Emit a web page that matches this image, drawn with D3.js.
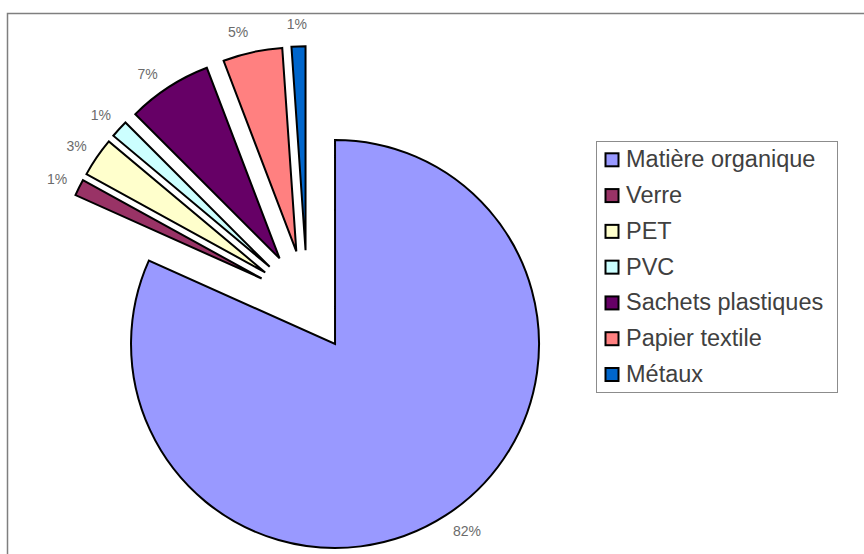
<!DOCTYPE html>
<html>
<head>
<meta charset="utf-8">
<script src="https://cdn.jsdelivr.net/npm/d3@7"></script>
<style>
  html, body { margin: 0; padding: 0; background: #fff; }
  svg { display: block; }
</style>
</head>
<body>
<svg id="chart" width="864" height="554"></svg>
<script>
const categories = ["Matière organique", "Verre", "PET", "PVC", "Sachets plastiques", "Papier textile", "Métaux"];
const values = [81.7, 1.3, 3.1, 1.4, 6.7, 4.7, 1.1];
const labels = ["82%", "1%", "3%", "1%", "7%", "5%", "1%"];
const colors = ["#9999FF", "#993366", "#FFFFCC", "#CCFFFF", "#660066", "#FF8080", "#0066CC"];

const svg = d3.select("#chart");

// chart frame
svg.append("rect")
  .attr("x", 7.5).attr("y", 13.5)
  .attr("width", 900).attr("height", 600)
  .attr("fill", "#fff")
  .attr("stroke", "#7f7f7f")
  .attr("stroke-width", 1.5);

const cx = 307.3, cy = 301.2, radius = 204, explode = 51, labelR = 228;

const data = categories.map((c, i) => ({ name: c, value: values[i], label: labels[i], color: colors[i] }));

const pie = d3.pie().value(d => d.value).sort(null).startAngle(0).endAngle(2 * Math.PI);
const arc = d3.arc().innerRadius(0).outerRadius(radius);
const arcs = pie(data);

const g = svg.append("g").attr("transform", `translate(${cx},${cy})`);

arcs.forEach(a => {
  const mid = (a.startAngle + a.endAngle) / 2;
  const dx = Math.sin(mid), dy = -Math.cos(mid);
  const sg = g.append("g").attr("transform", `translate(${dx * explode},${dy * explode})`);
  sg.append("path")
    .attr("d", arc(a))
    .attr("fill", a.data.color)
    .attr("stroke", "#000")
    .attr("stroke-width", 2)
    .attr("stroke-linejoin", "miter");
  const la = mid - (a.data.value >= 4 ? 0.042 : 0.004);
  sg.append("text")
    .attr("x", Math.sin(la) * labelR)
    .attr("y", -Math.cos(la) * labelR + 1.5)
    .attr("text-anchor", "middle")
    .attr("dominant-baseline", "central")
    .attr("font-family", "Liberation Sans, Arial, sans-serif")
    .attr("font-size", 14)
    .attr("fill", "#6b6b6b")
    .text(a.data.label);
});

// legend
const legend = svg.append("g");
legend.append("rect")
  .attr("x", 596.5).attr("y", 141.5)
  .attr("width", 241).attr("height", 251)
  .attr("fill", "#fff")
  .attr("stroke", "#8c8c8c")
  .attr("stroke-width", 1);

const yLeg = d3.scaleLinear().domain([0, categories.length - 1]).range([167.3, 382]);
data.forEach((d, i) => {
  const yb = yLeg(i);
  legend.append("rect")
    .attr("x", 605.5).attr("y", yb - 14)
    .attr("width", 13).attr("height", 13)
    .attr("fill", d.color)
    .attr("stroke", "#000")
    .attr("stroke-width", 2);
  legend.append("text")
    .attr("x", 626).attr("y", yb)
    .attr("font-family", "Liberation Sans, Arial, sans-serif")
    .attr("font-size", 23.5)
    .attr("fill", "#404040")
    .text(d.name);
});
</script>
</body>
</html>
